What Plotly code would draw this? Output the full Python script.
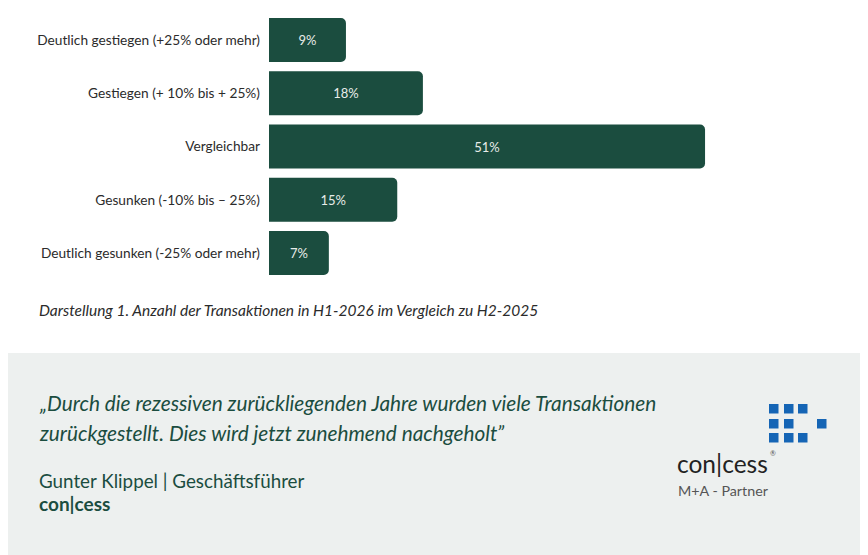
import plotly.graph_objects as go

W, H = 868, 555
OFF = 8  # page body margin offsets the figure

# Survey answers (top to bottom) and their shares in percent
categories = [
    "Deutlich gestiegen (+25% oder mehr)",
    "Gestiegen (+ 10% bis + 25%)",
    "Vergleichbar",
    "Gesunken (-10% bis – 25%)",
    "Deutlich gesunken (-25% oder mehr)",
]
shares = [9, 18, 51, 15, 7]

caption = "Darstellung 1. Anzahl der Transaktionen in H1-2026 im Vergleich zu H2-2025"
quote_lines = [
    "„Durch die rezessiven zurückliegenden Jahre wurden viele Transaktionen",
    "zurückgestellt. Dies wird jetzt zunehmend nachgeholt”",
]
author = "Gunter Klippel | Geschäftsführer"
company = "con|cess"

GREEN = "#1b4d3f"
FONT = "Lato"


def px(x):
    return (x - OFF) / W


def py(y):
    return 1 - (y - OFF) / H


fig = go.Figure()
fig.add_trace(go.Bar(
    x=shares,
    y=categories,
    orientation="h",
    marker=dict(color=GREEN, line=dict(width=0)),
    texttemplate="%{x}%",
    textposition="inside",
    insidetextanchor="middle",
    textfont=dict(color="#e8ece9", size=13, family=FONT),
    hoverinfo="skip",
))

# grey quote panel
fig.add_shape(type="rect", xref="paper", yref="paper", x0=-0.02, x1=1.02, y0=-0.05, y1=py(353),
              fillcolor="#edf0ef", line=dict(width=0), layer="below")

# logo squares
sq = 9.5
logo_cells = [(769, 404), (784, 404), (798, 404),
              (769, 419), (784, 419), (817, 419),
              (769, 433), (784, 433), (798, 433)]
for x0, y0 in logo_cells:
    fig.add_shape(type="rect", xref="paper", yref="paper",
                  x0=px(x0), x1=px(x0 + sq), y0=py(y0 + sq), y1=py(y0),
                  fillcolor="#1565b5", line=dict(width=0))

annos = [
    dict(text=caption, x=px(37), y=py(310), font=dict(size=15.5, color="#2b2b2b", family=FONT, style="italic")),
    dict(text=quote_lines[0], x=px(37), y=py(403), font=dict(size=20.8, color=GREEN, family=FONT, style="italic")),
    dict(text=quote_lines[1], x=px(37), y=py(432), font=dict(size=20.8, color=GREEN, family=FONT, style="italic")),
    dict(text=author, x=px(37), y=py(480), font=dict(size=18.8, color=GREEN, family=FONT)),
    dict(text="<b>" + company + "</b>", x=px(37), y=py(503), font=dict(size=19, color=GREEN, family=FONT)),
    dict(text="con|cess", x=px(675), y=py(463), font=dict(size=24.5, color="#222222", family=FONT)),
    dict(text="®", x=px(768), y=py(453), font=dict(size=7, color="#555555", family=FONT)),
    dict(text="M+A - Partner", x=px(676), y=py(490), font=dict(size=14.3, color="#555555", family=FONT)),
]
for a in annos:
    fig.add_annotation(xref="paper", yref="paper", xanchor="left", yanchor="middle",
                       showarrow=False, **a)

fig.update_layout(
    width=W, height=H,
    margin=dict(l=0, r=0, t=0, b=0),
    paper_bgcolor="white", plot_bgcolor="white",
    showlegend=False,
    bargap=0.175,
    barcornerradius=5,
    font=dict(family=FONT),
    xaxis=dict(domain=[px(269), 1], range=[0, (W - (269 - OFF)) / 8.55],
               visible=False, fixedrange=True),
    yaxis=dict(domain=[py(279.65), py(13.35)], autorange="reversed",
               showgrid=False, zeroline=False, showline=False,
               tickfont=dict(size=13.7, color="#2b2b2b", family=FONT),
               ticklabelstandoff=8, fixedrange=True),
)

fig.write_html("out.html")
